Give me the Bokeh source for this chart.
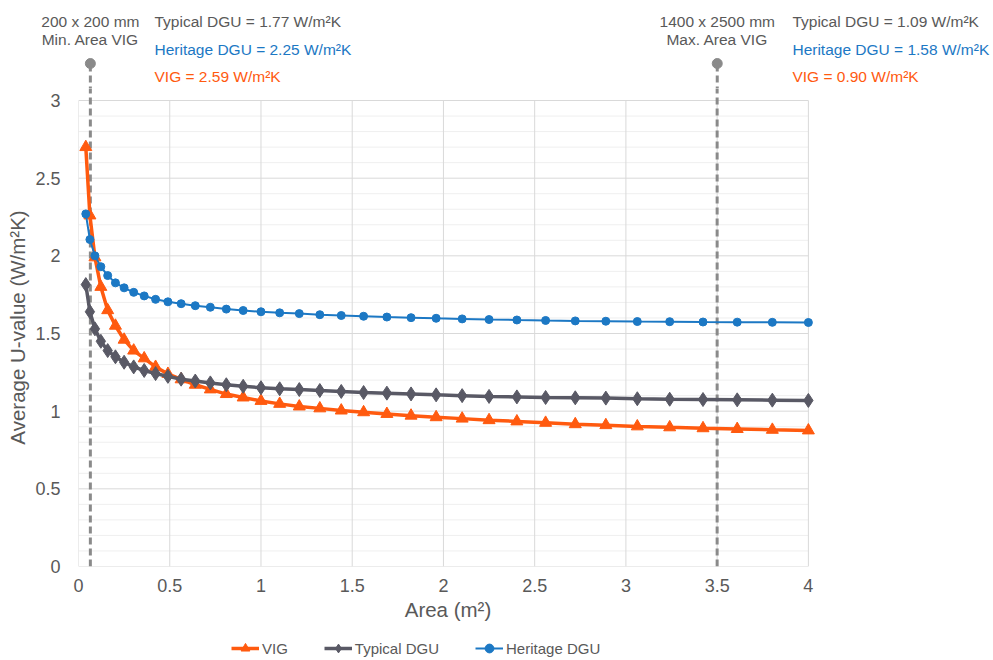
from bokeh.plotting import figure
from bokeh.layouts import column
from bokeh.models import (Range1d, FixedTicker, Label, Legend, LegendItem,
                          NumeralTickFormatter)
from bokeh.embed import file_html
from bokeh.resources import INLINE

# ---------------- data ----------------
area = [0.04, 0.0625, 0.09, 0.1225, 0.16, 0.2025, 0.25, 0.3025, 0.36, 0.4225,
        0.49, 0.5625, 0.64, 0.7225, 0.81, 0.9025, 1.0, 1.1025, 1.21, 1.3225,
        1.44, 1.5625, 1.69, 1.8225, 1.96, 2.1025, 2.25, 2.4025, 2.56, 2.7225,
        2.89, 3.0625, 3.24, 3.4225, 3.61, 3.8025, 4.0]

vig = [2.70, 2.26, 1.99, 1.80, 1.65, 1.55, 1.46, 1.39, 1.34, 1.285,
       1.24, 1.205, 1.17, 1.14, 1.11, 1.088, 1.066, 1.047, 1.03, 1.018,
       1.004, 0.993, 0.982, 0.971, 0.961, 0.952, 0.942, 0.934, 0.925, 0.916,
       0.910, 0.902, 0.896, 0.890, 0.885, 0.880, 0.876]

typical = [1.815, 1.64, 1.53, 1.45, 1.39, 1.35, 1.315, 1.285, 1.262, 1.242,
           1.224, 1.206, 1.194, 1.182, 1.170, 1.160, 1.151, 1.144, 1.139, 1.133,
           1.127, 1.120, 1.116, 1.111, 1.105, 1.100, 1.095, 1.092, 1.088, 1.086,
           1.084, 1.080, 1.077, 1.075, 1.073, 1.071, 1.069]

heritage = [2.27, 2.105, 2.00, 1.93, 1.873, 1.826, 1.794, 1.765, 1.742, 1.72,
            1.704, 1.692, 1.679, 1.669, 1.657, 1.648, 1.64, 1.633, 1.628, 1.621,
            1.616, 1.611, 1.606, 1.602, 1.598, 1.594, 1.590, 1.587, 1.584, 1.581,
            1.579, 1.577, 1.576, 1.574, 1.573, 1.572, 1.571]

x_ticks = [0, 0.5, 1, 1.5, 2, 2.5, 3, 3.5, 4]
y_ticks = [0, 0.5, 1, 1.5, 2, 2.5, 3]
y_minor = [0.1, 0.2, 0.3, 0.4, 0.6, 0.7, 0.8, 0.9, 1.1, 1.2, 1.3, 1.4,
           1.6, 1.7, 1.8, 1.9, 2.1, 2.2, 2.3, 2.4, 2.6, 2.7, 2.8, 2.9]

limit_area = [0.065, 3.5]
limit_size = ["200 x 200 mm", "1400 x 2500 mm"]
limit_name = ["Min. Area VIG", "Max. Area VIG"]
typical_at = [1.77, 1.09]
heritage_at = [2.25, 1.58]
vig_at = [2.59, 0.90]

# ---------------- styling ----------------
FONT = "Liberation Sans"
GREY_TXT = "#595959"
C_VIG = "#ff5a0f"
C_TYP = "#595965"
C_HER = "#1c78c4"
C_LIM = "#8a8a8a"
GRID = "#d9d9d9"
GRID_MINOR = "#efefef"

W = 993
H_HEAD, H_MAIN, H_FOOT = 88, 544, 28
Y_SPLIT = 3.0773          # U-value at the seam between header and main plot
Y_HEAD_TOP = 3.6438       # U-value at the top edge of the page
X_MAIN = (0, 4.05)
X_HEAD = (-0.4274, 5.0137)
LIM_TOP = 3.238           # top of the dashed limit lines


def bare(fig):
    fig.outline_line_color = None
    fig.background_fill_color = "white"
    fig.border_fill_color = "white"
    fig.frame_align = False
    return fig


# ---------------- header (annotations above the plot) ----------------
head = bare(figure(width=W, height=H_HEAD, title=None, x_axis_type=None, y_axis_type=None,
                   x_range=Range1d(*X_HEAD), y_range=Range1d(Y_SPLIT, Y_HEAD_TOP),
                   output_backend="svg", toolbar_location=None,
                   min_border_left=0, min_border_right=0, min_border_top=0,
                   min_border_bottom=0))
head.grid.visible = False
head.segment(x0=limit_area, y0=[0, 0], x1=limit_area, y1=[LIM_TOP, LIM_TOP],
             line_color=C_LIM, line_width=3, line_dash="7 4")
head.scatter(limit_area, [LIM_TOP, LIM_TOP], size=10, color=C_LIM)

TXT_X = [0.4164, 3.912]
for i in range(2):
    common = dict(text_baseline="middle", text_font=FONT, text_font_size="15.5px")
    head.add_layout(Label(x=limit_area[i], y=3.509, text=limit_size[i], text_align="center",
                          text_color=GREY_TXT, **common))
    head.add_layout(Label(x=limit_area[i], y=3.393, text=limit_name[i], text_align="center",
                          text_color=GREY_TXT, **common))
    head.add_layout(Label(x=TXT_X[i], y=3.509, text=f"Typical DGU = {typical_at[i]:.2f} W/m²K",
                          text_align="left", text_color=GREY_TXT, **common))
    head.add_layout(Label(x=TXT_X[i], y=3.328, text=f"Heritage DGU = {heritage_at[i]:.2f} W/m²K",
                          text_align="left", text_color=C_HER, **common))
    head.add_layout(Label(x=TXT_X[i], y=3.155, text=f"VIG = {vig_at[i]:.2f} W/m²K",
                          text_align="left", text_color=C_VIG, **common))

# ---------------- main plot ----------------
p = bare(figure(width=W, height=H_MAIN, title=None,
                x_range=Range1d(*X_MAIN), y_range=Range1d(0, Y_SPLIT),
                output_backend="svg", toolbar_location=None,
                min_border_left=78, min_border_right=176,
                min_border_top=0, min_border_bottom=66))
p.grid.visible = False

y_top_grid = y_ticks[-1]
x_right_grid = x_ticks[-1]
p.segment(x0=[0] * len(y_minor), y0=y_minor, x1=[x_right_grid] * len(y_minor),
          y1=y_minor, line_color=GRID_MINOR, line_width=1)
p.segment(x0=[0] * len(y_ticks), y0=y_ticks, x1=[x_right_grid] * len(y_ticks),
          y1=y_ticks, line_color=GRID, line_width=1)
p.segment(x0=x_ticks, y0=[0] * len(x_ticks), x1=x_ticks,
          y1=[y_top_grid] * len(x_ticks), line_color=GRID, line_width=1)

p.segment(x0=limit_area, y0=[0, 0], x1=limit_area, y1=[LIM_TOP, LIM_TOP],
          line_color=C_LIM, line_width=3, line_dash="7 4")

p.line(area, vig, line_color=C_VIG, line_width=3.5)
p.scatter(area, vig, marker="triangle", size=12, color=C_VIG)
p.line(area, typical, line_color=C_TYP, line_width=3.5)
p.scatter(area, typical, marker="diamond", size=14, color=C_TYP)
p.line(area, heritage, line_color=C_HER, line_width=2)
p.scatter(area, heritage, marker="circle", size=8, color=C_HER)

for ax, ticks, bnd in ((p.xaxis[0], x_ticks, (0, 4)), (p.yaxis[0], y_ticks, (0, 3))):
    ax.ticker = FixedTicker(ticks=ticks)
    ax.bounds = bnd
    ax.formatter = NumeralTickFormatter(format="0.[0]")
    ax.axis_line_color = None
    ax.major_tick_line_color = None
    ax.minor_tick_line_color = None
    ax.major_label_text_font = FONT
    ax.major_label_text_font_size = "18px"
    ax.major_label_text_color = GREY_TXT
    ax.axis_label_text_font = FONT
    ax.axis_label_text_font_size = "20.5px"
    ax.axis_label_text_font_style = "normal"
    ax.axis_label_text_color = GREY_TXT

p.xaxis.axis_label = "Area (m²)"
p.xaxis.major_label_standoff = 6
p.xaxis.axis_label_standoff = 3
p.yaxis.axis_label = "Average U-value (W/m²K)"
p.yaxis.major_label_standoff = 12
p.yaxis.axis_label_standoff = 3

# ---------------- footer (legend) ----------------
# the series are drawn again here, but outside the visible x-range, so that
# the legend can show their line + marker samples
foot = bare(figure(width=W, height=H_FOOT, title=None, x_axis_type=None, y_axis_type=None,
                   x_range=Range1d(10, 11), y_range=Range1d(0, 1),
                   output_backend="svg", toolbar_location=None,
                   min_border_left=0, min_border_right=0, min_border_top=0,
                   min_border_bottom=0))
foot.grid.visible = False
lv = foot.line(area, vig, line_color=C_VIG, line_width=3.5)
sv = foot.scatter(area, vig, marker="triangle", size=12, color=C_VIG)
lt = foot.line(area, typical, line_color=C_TYP, line_width=3.5)
st = foot.scatter(area, typical, marker="diamond", size=14, color=C_TYP)
lh = foot.line(area, heritage, line_color=C_HER, line_width=2)
sh = foot.scatter(area, heritage, marker="circle", size=8, color=C_HER)
legend = Legend(items=[LegendItem(label="VIG", renderers=[lv, sv]),
                       LegendItem(label="Typical DGU", renderers=[lt, st]),
                       LegendItem(label="Heritage DGU", renderers=[lh, sh])],
                orientation="horizontal", location=(231, 1),
                border_line_color=None, background_fill_alpha=0,
                padding=2, margin=0, spacing=36, glyph_width=28, glyph_height=22,
                label_standoff=3, label_text_font=FONT, label_text_font_size="15px",
                label_text_color=GREY_TXT)
foot.add_layout(legend)

layout = column(head, p, foot, spacing=0)
open("out.html", "w").write(file_html(layout, INLINE))
